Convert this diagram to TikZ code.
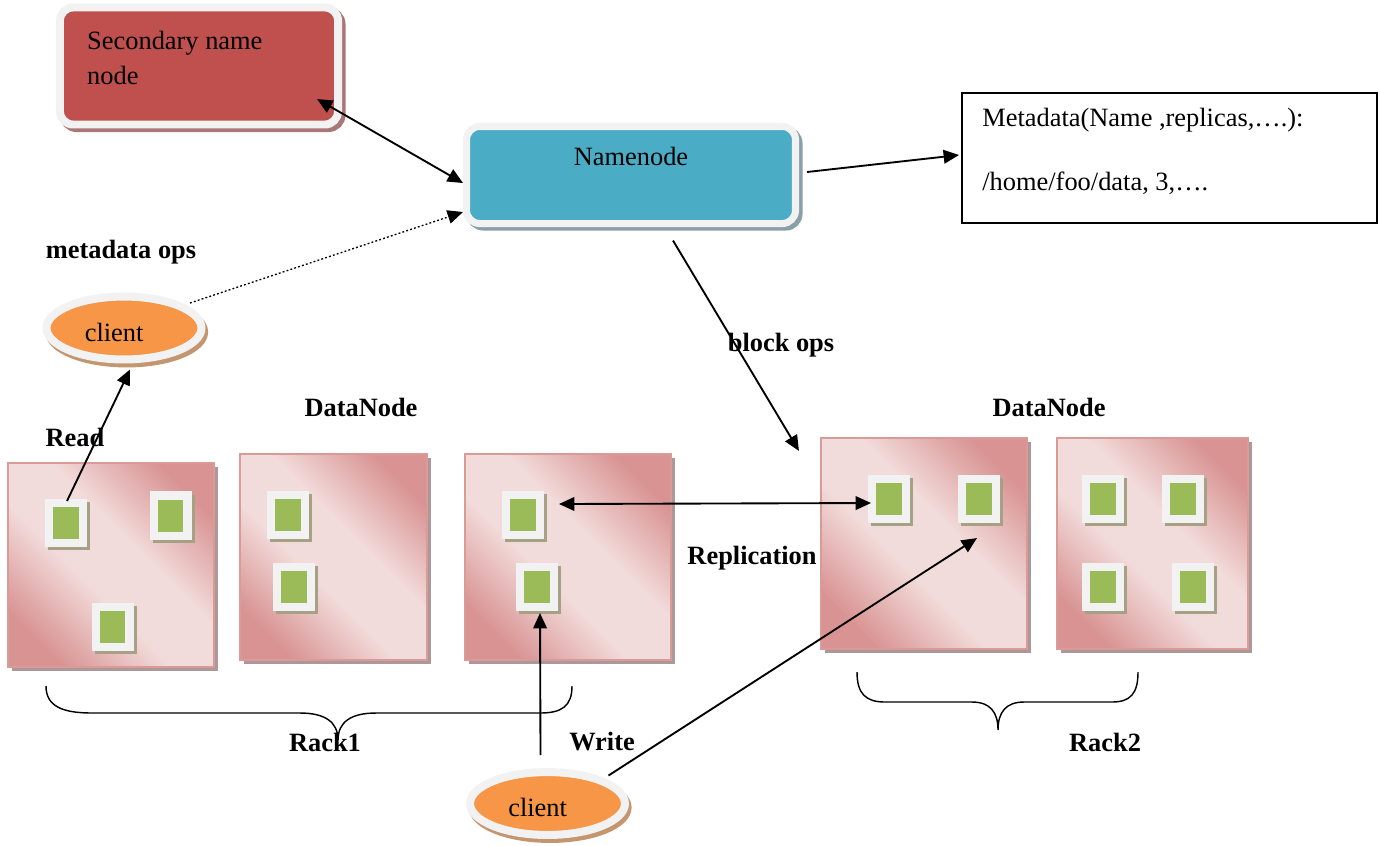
\documentclass[tikz,border=0pt]{standalone}
\usepackage{fontspec}
\setmainfont{Liberation Serif}
\usetikzlibrary{shapes.geometric,shadows,arrows.meta}

\definecolor{secred}{HTML}{C0504D}
\definecolor{nnblue}{HTML}{4BACC6}
\definecolor{ring}{HTML}{F2F2F2}
\definecolor{secsh}{RGB}{170,118,120}
\definecolor{nnsh}{RGB}{138,160,168}
\definecolor{dnlight}{HTML}{F2DCDB}
\definecolor{dndark}{HTML}{D89392}
\definecolor{dnedge}{HTML}{DA9A98}
\definecolor{dnsh}{RGB}{172,152,152}
\definecolor{blkgreen}{HTML}{9BBB59}
\definecolor{blksh}{RGB}{166,160,132}
\definecolor{clorange}{HTML}{F79646}
\definecolor{clsh}{RGB}{196,150,112}

% diagonal pink band used for the DataNode panels
\pgfdeclarehorizontalshading{dnshade}{100bp}{color(0bp)=(dndark); color(24bp)=(dndark); color(43bp)=(dnlight); color(57bp)=(dnlight); color(76bp)=(dndark); color(100bp)=(dndark)}

\begin{document}
\begin{tikzpicture}[x=0.4545pt, y=-0.4545pt,
  every node/.style={font=\fontsize{12}{15.9}\selectfont},
  >={Triangle[length=7pt,width=6.2pt]},
  mgrbox/.style={rectangle, rounded corners=6pt, draw=ring, line width=3.6pt, inner sep=0},
  secbox/.style={mgrbox, fill=secred, minimum width=126.4pt, minimum height=53.2pt,
    drop shadow={shadow xshift=1.6pt, shadow yshift=-1.6pt, fill=secsh, draw=secsh, line width=3.6pt, opacity=1}},
  nnbox/.style={mgrbox, fill=nnblue, line width=3.2pt, minimum width=149.5pt, minimum height=44.1pt,
    drop shadow={shadow xshift=1.6pt, shadow yshift=-1.6pt, fill=nnsh, draw=nnsh, line width=3.2pt, opacity=1}},
  metabox/.style={rectangle, draw, line width=0.9pt, fill=white, minimum width=188.6pt, minimum height=59.1pt, inner sep=0},
  dnbox/.style={rectangle, shade, shading=dnshade, shading angle=45, draw=dnedge, line width=1pt, inner sep=0,
    drop shadow={shadow xshift=1.8pt, shadow yshift=-1.8pt, fill=dnsh, opacity=1}},
  blk/.style={rectangle, fill=blkgreen, draw=ring, line width=3.64pt, minimum width=15.45pt, minimum height=18.2pt, inner sep=0,
    drop shadow={shadow xshift=1.4pt, shadow yshift=-1.4pt, fill=blksh, draw=blksh, line width=3.64pt, opacity=1}},
  clientnode/.style={ellipse, fill=clorange, draw=ring, line width=3.64pt, minimum width=70.4pt, minimum height=28.6pt, inner sep=0,
    drop shadow={shadow xshift=1.2pt, shadow yshift=-1.8pt, fill=clsh, draw=clsh, line width=3.64pt, opacity=1},
    label={[inner sep=0, xshift=-4.5pt, yshift=-2pt]center:client}},
  lbl/.style={font=\fontsize{12}{15.9}\selectfont\bfseries, inner sep=0},
  conn/.style={line width=0.85pt, ->},
  dconn/.style={line width=0.85pt, <->},
  brace/.style={line width=0.65pt}
]
\useasboundingbox (0,0) rectangle (1380,845);

% managers
\node[secbox, label={[anchor=north west, align=left, inner sep=0, xshift=14pt, yshift=-12.4pt]north west:{Secondary name\\node}}] (sec) at (199,66) {};
\node[nnbox, label={[anchor=north, inner sep=0, yshift=-11pt]north:Namenode}] (nn) at (631,175) {};
\node[metabox, label={[anchor=north west, align=left, inner sep=0, xshift=9.5pt, yshift=-7.3pt]north west:{Metadata(Name ,replicas,….):\\[13pt]/home/foo/data, 3,….}}] (meta) at (1169.5,158) {};

% DataNode panels
\node[dnbox, minimum width=93.6pt, minimum height=92.7pt] (dn1) at (111,565) {};
\node[dnbox, minimum width=85pt,   minimum height=93.6pt] (dn2) at (333.5,557) {};
\node[dnbox, minimum width=93.6pt, minimum height=93.6pt] (dn3) at (568,557) {};
\node[dnbox, minimum width=93.6pt, minimum height=95.9pt] (dn4) at (924,543.5) {};
\node[dnbox, minimum width=86.8pt, minimum height=95.9pt] (dn5) at (1152.5,543.5) {};

% blocks
\node[blk] (b11) at (66,523) {};
\node[blk] (b12) at (170.5,515.5) {};
\node[blk] (b13) at (112.5,627) {};
\node[blk] (b21) at (288,515) {};
\node[blk] (b22) at (294,587) {};
\node[blk] (b31) at (522.5,515) {};
\node[blk] (b32) at (537,587) {};
\node[blk] (b41) at (889,499) {};
\node[blk] (b42) at (979,499) {};
\node[blk] (b51) at (1103,499) {};
\node[blk] (b52) at (1183,499) {};
\node[blk] (b53) at (1103,587) {};
\node[blk] (b54) at (1193,587) {};

% clients
\node[clientnode] (cl1) at (124,328) {};
\node[clientnode] (cl2) at (547.5,803.5) {};

% text labels
\node[lbl] (lmeta)  at (121,252) {metadata ops};
\node[lbl] (lread)  at (75,437) {Read};
\node[lbl] (ldn1)   at (361,407) {DataNode};
\node[lbl] (ldn2)   at (1049,407) {DataNode};
\node[lbl] (lblock) at (781,345) {block ops};
\node[lbl] (lrep)   at (752,558) {Replication};
\node[lbl] (lrack1) at (325,742) {Rack1};
\node[lbl] (lwrite) at (602,742) {Write};
\node[lbl] (lrack2) at (1105,742) {Rack2};

% connectors
\draw[dconn] ([shift={(-25,-29.5)}]sec.south east) -- ([shift={(0,8)}]nn.west);
\draw[conn] ([shift={(8,-3)}]nn.east) -- ([shift={(-2,-3)}]meta.west);
\draw[conn, densely dotted, line width=0.6pt] ([shift={(66,-25)}]cl1.center) -- ([shift={(0,37)}]nn.west);
\draw[conn] ([shift={(42,13.5)}]nn.south) -- ([shift={(-21,14)}]dn4.north west);
\draw[conn] ([shift={(1,2)}]b11.north) -- ([shift={(6,6)}]cl1.south);
\draw[dconn] ([shift={(15.5,-11)}]b31.east) -- ([shift={(3,4)}]b41.west);
\draw[conn] ([shift={(-7,-13)}]cl2.north) -- ([shift={(3,2)}]b32.south);
\draw[conn] ([shift={(61,-28)}]cl2.center) -- ([shift={(-2,15)}]b42.south);

% rack braces
\draw[brace] (46,686) .. controls (46,706) and (62,713) .. (92,713) -- (300,713)
  .. controls (325,713) and (338,722) .. (338,740)
  .. controls (338,722) and (351,713) .. (376,713) -- (540,713)
  .. controls (562,713) and (572,706) .. (572,686);
\draw[brace] (857,672) .. controls (857,694) and (866,702) .. (885,702) -- (972,702)
  .. controls (990,702) and (998,712) .. (998,730)
  .. controls (998,712) and (1006,702) .. (1024,702) -- (1112,702)
  .. controls (1130,702) and (1138,694) .. (1138,672);
\end{tikzpicture}
\end{document}
